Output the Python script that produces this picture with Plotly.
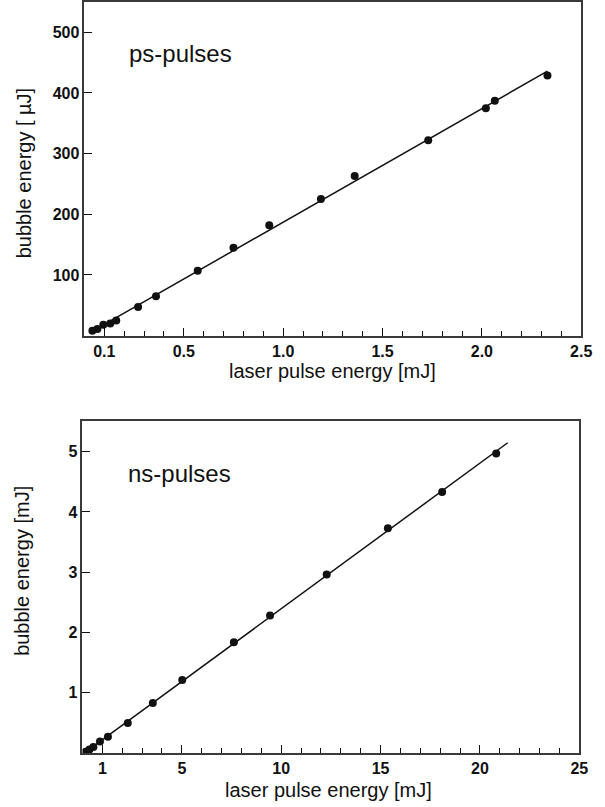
import numpy as np
import plotly.graph_objects as go

# ---------------- data ----------------
ps_laser_mJ = [0.04, 0.065, 0.095, 0.13, 0.16, 0.27, 0.36, 0.57, 0.75, 0.93,
               1.19, 1.36, 1.73, 2.02, 2.065, 2.33]
ps_bubble_uJ = [8, 11, 18, 20, 25, 47, 65, 107, 145, 182,
                225, 263, 322, 375, 387, 429]

ns_laser_mJ = [0.15, 0.35, 0.55, 0.88, 1.28, 2.28, 3.54, 5.02, 7.62, 9.44,
               12.29, 15.37, 18.1, 20.82]
ns_bubble_mJ = [0.02, 0.06, 0.10, 0.19, 0.27, 0.50, 0.83, 1.21, 1.84, 2.28,
                2.96, 3.73, 4.33, 4.97]
ns_fit_span = [0.0, 21.4]

ps_xtick_vals = [0.1, 0.5, 1.0, 1.5, 2.0, 2.5]
ps_xtick_text = ["0.1", "0.5", "1.0", "1.5", "2.0", "2.5"]
ps_ytick_vals = [100, 200, 300, 400, 500]
ns_xtick_vals = [1, 5, 10, 15, 20, 25]
ns_xtick_text = ["1", "5", "10", "15", "20", "25"]
ns_ytick_vals = [1, 2, 3, 4, 5]

# ---------------- linear fits ----------------
ps_k, ps_b = np.polyfit(ps_laser_mJ, ps_bubble_uJ, 1)
ps_fx = np.array([min(ps_laser_mJ) - 0.01, max(ps_laser_mJ)])
ns_k, ns_b = np.polyfit(ns_laser_mJ, ns_bubble_mJ, 1)
ns_fx = np.array(ns_fit_span)

W, H = 605, 807
FONT = "Liberation Sans, Arial, Helvetica, sans-serif"
INK = "#111111"
FRAME = "#3a3a3a"

fig = go.Figure()
fig.add_trace(go.Scatter(x=ps_fx, y=ps_k * ps_fx + ps_b, mode="lines",
                         line=dict(color=INK, width=1.5), xaxis="x", yaxis="y",
                         hoverinfo="skip"))
fig.add_trace(go.Scatter(x=ps_laser_mJ, y=ps_bubble_uJ, mode="markers",
                         marker=dict(color=INK, size=8), xaxis="x", yaxis="y"))
fig.add_trace(go.Scatter(x=ns_fx, y=ns_k * ns_fx + ns_b, mode="lines",
                         line=dict(color=INK, width=1.5), xaxis="x2", yaxis="y2",
                         hoverinfo="skip"))
fig.add_trace(go.Scatter(x=ns_laser_mJ, y=ns_bubble_mJ, mode="markers",
                         marker=dict(color=INK, size=8), xaxis="x2", yaxis="y2"))

tickfont = dict(family=FONT, size=16, color=INK, weight="bold")


def xaxis_cfg(domain, rng, vals, text, minor_vals, anchor):
    return dict(domain=domain, range=rng, anchor=anchor,
                tickmode="array", tickvals=vals, ticktext=text,
                ticks="inside", ticklen=8, tickwidth=1.3, tickcolor=INK,
                tickfont=tickfont, showline=True, linecolor=FRAME, linewidth=1.6,
                mirror=True, showgrid=False, zeroline=False,
                minor=dict(tickmode="array", tickvals=minor_vals, ticks="inside",
                           ticklen=5, tickwidth=1.2, tickcolor=INK, showgrid=False))


def yaxis_cfg(domain, rng, vals, anchor):
    return dict(domain=domain, range=rng, anchor=anchor,
                tickmode="array", tickvals=vals,
                ticks="inside", ticklen=8, tickwidth=1.3, tickcolor=INK,
                tickfont=tickfont, showline=True, linecolor=FRAME, linewidth=1.6,
                mirror=True, showgrid=False, zeroline=False)


ps_minor = [round(i * 0.1, 2) for i in range(1, 25)]
ns_minor = list(range(1, 25))

fig.update_layout(
    width=W, height=H, margin=dict(l=0, r=0, t=0, b=0),
    paper_bgcolor="white", plot_bgcolor="white", showlegend=False,
    xaxis=xaxis_cfg([86 / W, 592 / W], [0, 2.5], ps_xtick_vals, ps_xtick_text, ps_minor, "y"),
    yaxis=yaxis_cfg([1 - 335 / H, 1 - 1 / H], [0, 550], ps_ytick_vals, "x"),
    xaxis2=xaxis_cfg([84 / W, 590 / W], [0, 25], ns_xtick_vals, ns_xtick_text, ns_minor, "y2"),
    yaxis2=yaxis_cfg([1 - 753 / H, 1 - 421 / H], [0, 5.5], ns_ytick_vals, "x2"),
)

title_font = dict(family=FONT, size=20, color=INK)
label_font = dict(family=FONT, size=24, color=INK)


def ann(text, px, py, font, angle=0):
    fig.add_annotation(text=text, x=px / W, y=1 - py / H, xref="paper", yref="paper",
                       xanchor="center", yanchor="middle", showarrow=False,
                       font=font, textangle=angle)


ann("ps-pulses", 184, 53, label_font)
ann("laser pulse energy [mJ]", 339, 370, title_font)
ann("bubble energy [ µJ]", 24, 172, title_font, -90)

ann("ns-pulses", 183, 473, label_font)
ann("laser pulse energy [mJ]", 335, 790, title_font)
ann("bubble energy [mJ]", 23, 571, title_font, -90)

fig.write_html("out.html")
